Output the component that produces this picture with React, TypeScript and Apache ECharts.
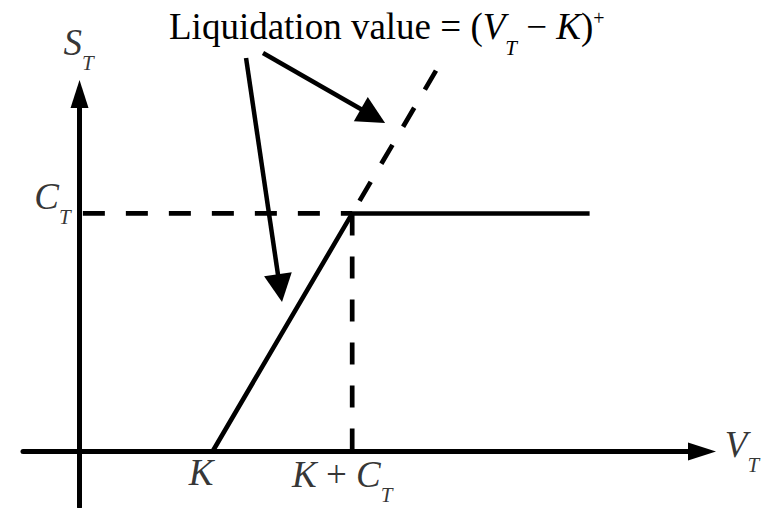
import React, { useEffect, useRef } from "react";
import * as echarts from "echarts";

const SERIF = "'Liberation Serif', 'Times New Roman', 'DejaVu Serif', serif";

// Quantities in data units
const STRIKE = 2; // K
const CAP = 2.1; // C_T
const xRange = [-0.85, 9.36];
const yRange = [-0.49, 3.154];

// Payoff: zero until K, then V_T - K, capped at C_T
const payoffX = [STRIKE, STRIKE + CAP, 7.67];
const payoffY = [0, CAP, CAP];

// Dashed continuation of the liquidation value (V_T - K)^+
const liquidationX = [5.36, STRIKE + CAP];
const liquidationY = [3.36, CAP];

// Dashed guides
const capGuideX = [0.05, STRIKE + CAP];
const capGuideY = [CAP, CAP];
const strikeCapGuideX = [STRIKE + CAP, STRIKE + CAP];
const strikeCapGuideY = [CAP, 0];

// Callout arrows from the annotation
const calloutStart = [
  [2.504, 3.472],
  [2.759, 3.516],
];
const calloutEnd = [
  [3.014, 1.441],
  [4.412, 2.96],
];

// Text labels
const titleText = "{m|Liquidation value = (}{i|V}{s|T}{m| − }{i|K}{m|)}{p|+}";
const labelTexts = ["{i|K}", "{i|K}{m| + }{i|C}{s|T}", "{i|C}{s|T}", "{i|S}{s|T}", "{i|V}{s|T}"];
const labelX = [STRIKE, STRIKE + CAP, 0, 0, xRange[1]];
const labelY = [0, 0, CAP, yRange[1], 0];

const labelOffsets = [
  [-11.5, 23],
  [-10, 24.5],
  [-27, -15.5],
  [-1, -50.5],
  [40, -5.5],
];

const rich: any = {
  m: { fontFamily: SERIF, fontSize: 37, lineHeight: 40, verticalAlign: "top", color: "#000", fontWeight: "normal", fontStyle: "normal" },
  i: { fontFamily: SERIF, fontSize: 37, lineHeight: 40, verticalAlign: "top", color: "#000", fontWeight: "normal", fontStyle: "italic" },
  s: { fontFamily: SERIF, fontSize: 21, lineHeight: 20, padding: [29, 0, 0, 0], verticalAlign: "top", color: "#000", fontWeight: "normal", fontStyle: "italic" },
  p: { fontFamily: SERIF, fontSize: 20, lineHeight: 10, verticalAlign: "top", color: "#000", fontWeight: "normal", fontStyle: "normal" },
};

const pairs = (xs: number[], ys: number[]) => xs.map((x, i) => [x, ys[i]]);

export default function App() {
  const ref = useRef<HTMLDivElement>(null);

  useEffect(() => {
    document.body.style.margin = "0";
    if (!ref.current) return;
    const chart = echarts.init(ref.current, null, { renderer: "svg" });

    const axisCommon = {
      type: "value" as const,
      axisTick: { show: false },
      axisLabel: { show: false },
      splitLine: { show: false },
      axisLine: {
        show: true,
        onZero: true,
        symbol: ["none", "triangle"],
        symbolSize: [18, 28],
        lineStyle: { color: "#000", width: 5 },
      },
    };

    const lineStyleSolid = { color: "#000", width: 4.6, type: "solid" as const, cap: "butt" as const, join: "miter" as const };
    const lineStyleDash = { color: "#000", width: 4.7, type: [22, 21] as any, cap: "butt" as const };

    chart.setOption({
      animation: false,
      backgroundColor: "#fff",
      title: {
        text: titleText,
        left: 169,
        top: 8,
        padding: 0,
        textStyle: { fontFamily: SERIF, fontSize: 37, fontWeight: "normal", color: "#000", rich },
      },
      grid: { left: 23, right: 67, top: 94, bottom: 1, containLabel: false, outerBoundsMode: "none" } as any,
      xAxis: { ...axisCommon, min: xRange[0], max: xRange[1] },
      yAxis: { ...axisCommon, min: yRange[0], max: yRange[1] },
      series: [
        {
          type: "line",
          name: "cap guide",
          data: pairs(capGuideX, capGuideY),
          symbol: "none",
          clip: false,
          silent: true,
          lineStyle: lineStyleDash,
          z: 3,
        },
        {
          type: "line",
          name: "K + C guide",
          data: pairs(strikeCapGuideX, strikeCapGuideY),
          symbol: "none",
          clip: false,
          silent: true,
          lineStyle: lineStyleDash,
          z: 3,
        },
        {
          type: "line",
          name: "liquidation value",
          data: pairs(liquidationX, liquidationY),
          symbol: "none",
          clip: false,
          silent: true,
          lineStyle: lineStyleDash,
          z: 3,
        },
        {
          type: "line",
          name: "payoff",
          data: pairs(payoffX, payoffY),
          symbol: "none",
          clip: false,
          silent: true,
          lineStyle: lineStyleSolid,
          z: 4,
        },
        {
          type: "lines",
          coordinateSystem: "cartesian2d",
          name: "callouts",
          symbol: ["none", "triangle"],
          symbolSize: [18, 28],
          silent: true,
          clip: false,
          lineStyle: { color: "#000", width: 4.5, opacity: 1, curveness: 0 },
          data: calloutStart.map((s, i) => ({ coords: [s, calloutEnd[i]] })),
          z: 5,
        },
        {
          type: "scatter",
          name: "labels",
          symbol: "circle",
          symbolSize: 1,
          clip: false,
          silent: true,
          itemStyle: { color: "rgba(0,0,0,0)" },
          data: labelTexts.map((t, i) => ({
            value: [labelX[i], labelY[i]],
            label: {
              show: true,
              position: "inside",
              offset: labelOffsets[i],
              formatter: t,
              rich,
            },
          })),
          z: 6,
        },
      ],
    });

    return () => chart.dispose();
  }, []);

  return <div ref={ref} style={{ position: "absolute", left: 0, top: 0, width: 769, height: 508 }} />;
}
